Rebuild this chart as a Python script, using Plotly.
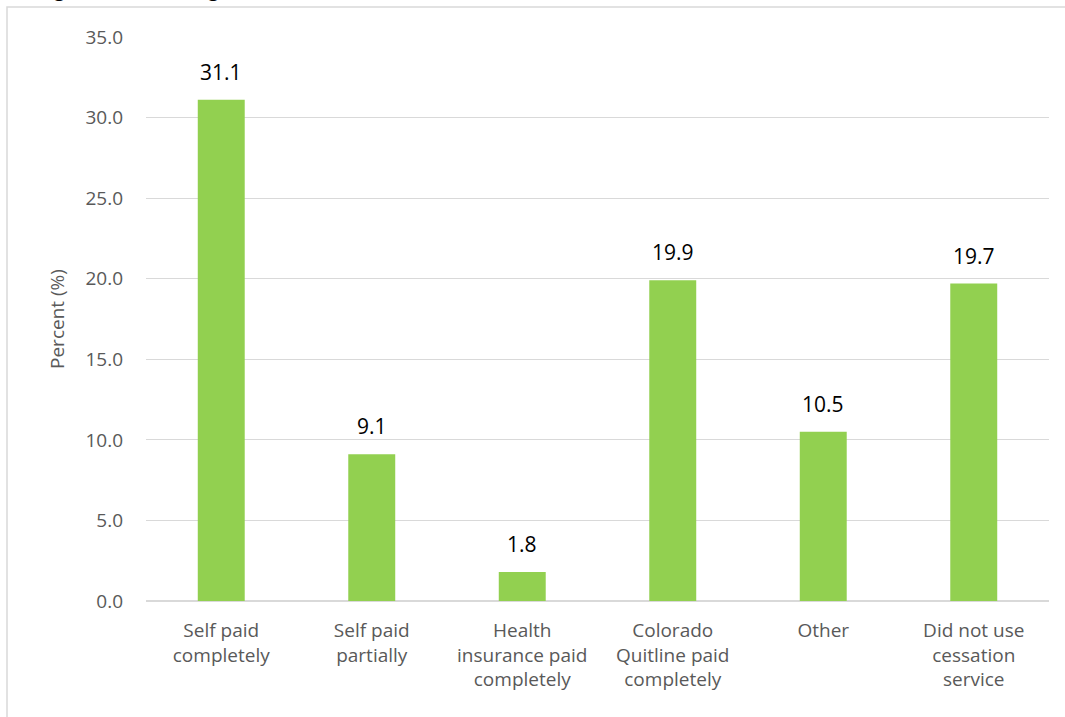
import plotly.graph_objects as go

categories = ["Self paid<br>completely", "Self paid<br>partially", "Health<br>insurance paid<br>completely",
              "Colorado<br>Quitline paid<br>completely", "Other", "Did not use<br>cessation<br>service"]
values = [31.1, 9.1, 1.8, 19.9, 10.5, 19.7]
tick_vals = [0, 5, 10, 15, 20, 25, 30, 35]
tick_text = ["0.0", "5.0", "10.0", "15.0", "20.0", "25.0", "30.0", "35.0"]
title_text = "among former smoking adults, 2015"

FONT = "Open Sans"
W, H = 1065, 717
L, R, T, B = 146, 16, 37, 116
pw, ph = W - L - R, H - T - B


def px_x(x):
    return (x - L) / pw


def px_y(y):
    return (H - B - y) / ph


fig = go.Figure(go.Bar(
    x=categories, y=values, marker_color="#92d050", marker_line_width=0,
))

annotations = [dict(x=c, y=v, xref="x", yref="y", text=f"{v:.1f}", showarrow=False,
                    yanchor="bottom", yshift=12,
                    font=dict(size=21, color="#000000", family=FONT))
               for c, v in zip(categories, values)]
annotations.append(dict(text=title_text, xref="paper", yref="paper",
                        x=px_x(-2), y=px_y(-2), xanchor="left", yanchor="top", yshift=25,
                        showarrow=False, font=dict(size=20, color="#000000", family=FONT)))

fig.update_layout(
    width=W, height=H, margin=dict(l=L, r=R, t=T, b=B),
    paper_bgcolor="white", plot_bgcolor="white", bargap=0.688,
    font=dict(family=FONT, size=19, color="#595959"),
    showlegend=False,
    xaxis=dict(showgrid=False, showline=False, ticks="", ticklabelstandoff=16,
               tickfont=dict(size=19, color="#595959", family=FONT)),
    yaxis=dict(range=[0, 35], tickvals=tick_vals, ticktext=tick_text, showgrid=True,
               gridcolor="#d9d9d9", gridwidth=1, zeroline=True, zerolinecolor="#d9d9d9",
               zerolinewidth=1.5,
               showline=False, ticks="", ticklabelstandoff=22,
               title=dict(text="Percent (%)", font=dict(size=19, color="#595959", family=FONT), standoff=15),
               tickfont=dict(size=19, color="#595959", family=FONT)),
    shapes=[dict(type="rect", xref="paper", yref="paper",
                 x0=px_x(7), x1=px_x(1080), y0=px_y(740), y1=px_y(7),
                 line=dict(color="#d9d9d9", width=1.5), fillcolor="rgba(0,0,0,0)", layer="below")],
    annotations=annotations,
)

fig.write_html("out.html", config={"displayModeBar": False},
               post_script="document.body.style.margin='0';")
